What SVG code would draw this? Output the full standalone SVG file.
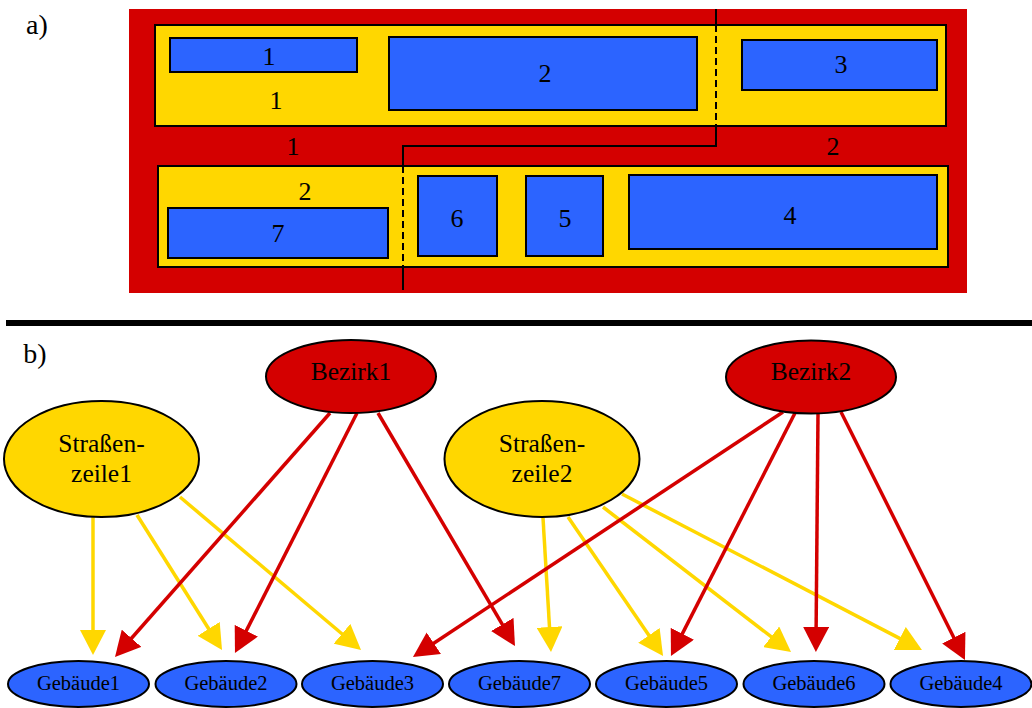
<svg xmlns="http://www.w3.org/2000/svg" width="1032" height="708" viewBox="0 0 1032 708">
<style>
text{font-family:"Liberation Serif","Tinos","Times New Roman","DejaVu Serif","Noto Serif",serif;fill:#000;text-anchor:middle}
.d{font-size:26px}
.n{font-size:25.5px}
.g{font-size:20.5px}
.red{fill:#d40000}
.yel{fill:#ffd700}
.blu{fill:#2c64ff}
.bx{stroke:#000;stroke-width:2}
.ey{stroke:#ffd700;stroke-width:3.5;fill:none}
.er{stroke:#d40000;stroke-width:3.5;fill:none}
.sep{stroke:#000;stroke-width:2;fill:none}
</style>
<defs>
<marker id="ay" markerUnits="userSpaceOnUse" markerWidth="25" markerHeight="26" refX="15" refY="13" orient="auto" viewBox="0 0 25 26"><path d="M0,0 L25,13 L0,26 z" fill="#ffd700"/></marker>
<marker id="ar" markerUnits="userSpaceOnUse" markerWidth="25" markerHeight="26" refX="15" refY="13" orient="auto" viewBox="0 0 25 26"><path d="M0,0 L25,13 L0,26 z" fill="#d40000"/></marker>
</defs>
<rect width="1032" height="708" fill="#fff"/>
<text x="37" y="34" font-family="Liberation Serif, serif" style="font-size:28px">a)</text>
<g id="plan">
<rect class="red" x="129" y="9" width="838" height="284"/>
<rect class="yel bx" x="155" y="25" width="791" height="101"/>
<rect class="yel bx" x="158" y="166" width="790" height="101"/>
<rect class="blu bx" x="170" y="38" width="187" height="34"/>
<rect class="blu bx" x="389" y="37" width="308" height="73"/>
<rect class="blu bx" x="742" y="40" width="195" height="50"/>
<rect class="blu bx" x="168" y="208" width="220" height="50"/>
<rect class="blu bx" x="418" y="176" width="79" height="80"/>
<rect class="blu bx" x="526" y="176" width="77" height="80"/>
<rect class="blu bx" x="629" y="175" width="308" height="74"/>
<path class="sep" d="M716,9 V25 M716,126 V146 H403 V166 M403,267 V290"/>
<path class="sep" d="M716,25 V126 M403,166 V267" stroke-dasharray="7,4"/>
<text class="d" x="269" y="65">1</text>
<text class="d" x="276" y="109">1</text>
<text class="d" x="545" y="82">2</text>
<text class="d" x="841" y="73">3</text>
<text class="d" x="293" y="155">1</text>
<text class="d" x="833" y="155">2</text>
<text class="d" x="305" y="200">2</text>
<text class="d" x="278" y="242">7</text>
<text class="d" x="457" y="227">6</text>
<text class="d" x="565" y="227">5</text>
<text class="d" x="790" y="224">4</text>
</g>
<rect x="6" y="320" width="1026" height="6" fill="#000"/>
<text x="35" y="363" style="font-size:28px">b)</text>
<g id="connectors">
<path class="ey" marker-end="url(#ay)" d="M93,517 L93,645"/>
<path class="ey" marker-end="url(#ay)" d="M137,515 L216.7,641.5"/>
<path class="ey" marker-end="url(#ay)" d="M180,497 L353.4,643.5"/>
<path class="er" marker-end="url(#ar)" d="M330,413 L121.6,649.5"/>
<path class="er" marker-end="url(#ar)" d="M357,413 L239.5,644.1"/>
<path class="er" marker-end="url(#ar)" d="M378,413 L509.9,637.4"/>
<path class="ey" marker-end="url(#ay)" d="M543,518 L550.4,642"/>
<path class="ey" marker-end="url(#ay)" d="M568,517 L657.4,647.7"/>
<path class="ey" marker-end="url(#ay)" d="M603,507 L783.1,645.9"/>
<path class="ey" marker-end="url(#ay)" d="M622,494 L913.1,645.4"/>
<path class="er" marker-end="url(#ar)" d="M783,412 L421.3,651.5"/>
<path class="er" marker-end="url(#ar)" d="M795,413 L675.5,647.1"/>
<path class="er" marker-end="url(#ar)" d="M818,414 L816,642"/>
<path class="er" marker-end="url(#ar)" d="M841,412 L960.5,651"/>
</g>
<g id="bezirk1"><ellipse class="red bx" cx="351" cy="376.5" rx="85" ry="36.5"/><text class="n" x="351" y="380">Bezirk1</text></g>
<g id="bezirk2"><ellipse class="red bx" cx="811" cy="377" rx="85" ry="36.5"/><text class="n" x="811" y="380">Bezirk2</text></g>
<g id="strassenzeile1"><ellipse class="yel bx" cx="101.5" cy="459" rx="97.5" ry="58"/><text class="n" x="101.5" y="452">Straßen-</text><text class="n" x="101.5" y="482">zeile1</text></g>
<g id="strassenzeile2"><ellipse class="yel bx" cx="542" cy="459" rx="97.5" ry="58"/><text class="n" x="542" y="452">Straßen-</text><text class="n" x="542" y="482">zeile2</text></g>
<g id="gebaeude1"><ellipse class="blu bx" cx="78.5" cy="684" rx="70.5" ry="23"/><text class="g" x="78.5" y="690">Gebäude1</text></g>
<g id="gebaeude2"><ellipse class="blu bx" cx="226" cy="684" rx="70.5" ry="23"/><text class="g" x="226" y="690">Gebäude2</text></g>
<g id="gebaeude3"><ellipse class="blu bx" cx="372.5" cy="684" rx="70.5" ry="23"/><text class="g" x="372.5" y="690">Gebäude3</text></g>
<g id="gebaeude7"><ellipse class="blu bx" cx="519.5" cy="684" rx="70.5" ry="23"/><text class="g" x="519.5" y="690">Gebäude7</text></g>
<g id="gebaeude5"><ellipse class="blu bx" cx="666.5" cy="684" rx="70.5" ry="23"/><text class="g" x="666.5" y="690">Gebäude5</text></g>
<g id="gebaeude6"><ellipse class="blu bx" cx="814" cy="684" rx="70.5" ry="23"/><text class="g" x="814" y="690">Gebäude6</text></g>
<g id="gebaeude4"><ellipse class="blu bx" cx="961" cy="684" rx="70.5" ry="23"/><text class="g" x="961" y="690">Gebäude4</text></g>
</svg>
